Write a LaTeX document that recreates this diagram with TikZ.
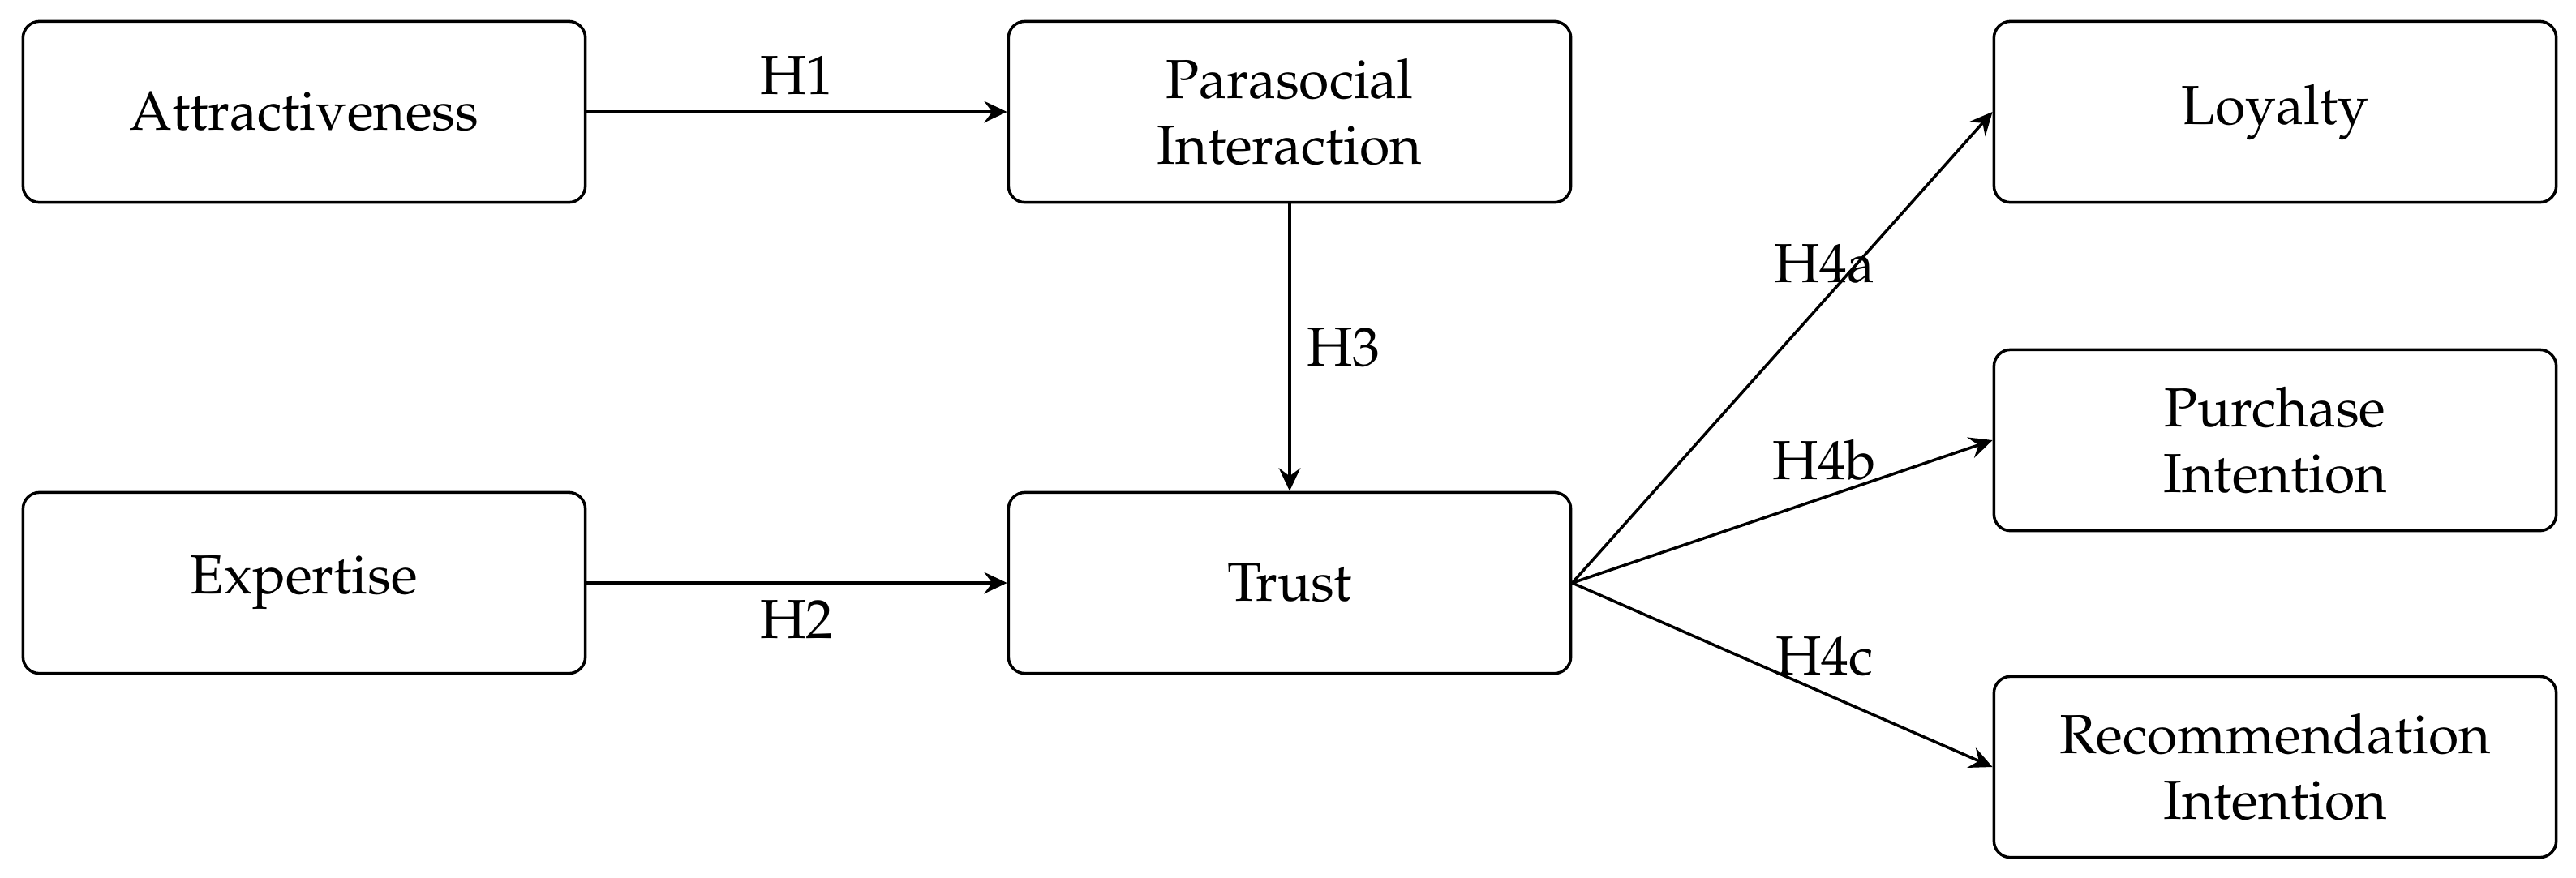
\documentclass[tikz,border=0pt]{standalone}
\usepackage[T1]{fontenc}
\usepackage{mathpazo}
\usepackage{tikz}
\usetikzlibrary{arrows.meta, positioning}
\tikzset{
    construct/.style={rectangle, draw, semithick, rounded corners=3.5pt, minimum width=4.16cm, minimum height=1.34cm, align=center, font=\fontsize{11.6}{13.8}\selectfont},
    path/.style={draw, semithick, -{Stealth[length=1.7mm, width=1.6mm, inset=0.6mm]}},
    hyp/.style={font=\fontsize{11.6}{13.8}\selectfont}
}
\begin{document}
\begin{tikzpicture}
    \useasboundingbox (0,0) rectangle (19.056,6.492);

    % --- ANTECEDENTS ---
    \node[construct] (attr) at (2.25,5.664) {Attractiveness};
    \node[construct] (expe) at (2.25,2.178) {Expertise};

    % --- MEDIATORS ---
    \node[construct] (psi) at (9.54,5.664) {Parasocial\\ Interaction};
    \node[construct] (trust) at (9.54,2.178) {Trust};

    % --- OUTCOMES ---
    \node[construct] (loyal) at (16.83,5.664) {Loyalty};
    \node[construct] (purch) at (16.83,3.234) {Purchase\\ Intention};
    \node[construct] (recom) at (16.83,0.816) {Recommendation\\ Intention};

    % Hypothesised paths
    \draw[path] (attr) -- node[hyp, above] {H1} (psi);
    \draw[path] (expe) -- node[hyp, below] {H2} (trust);
    \draw[path] (psi) -- node[hyp, right] {H3} (trust);
    \draw[path] (trust.east) -- node[hyp, above, pos=0.6] {H4a} (loyal.west);
    \draw[path] (trust.east) -- node[hyp, above, pos=0.6] {H4b} (purch.west);
    \draw[path] (trust.east) -- node[hyp, above, pos=0.6] {H4c} (recom.west);

\end{tikzpicture}
\end{document}
